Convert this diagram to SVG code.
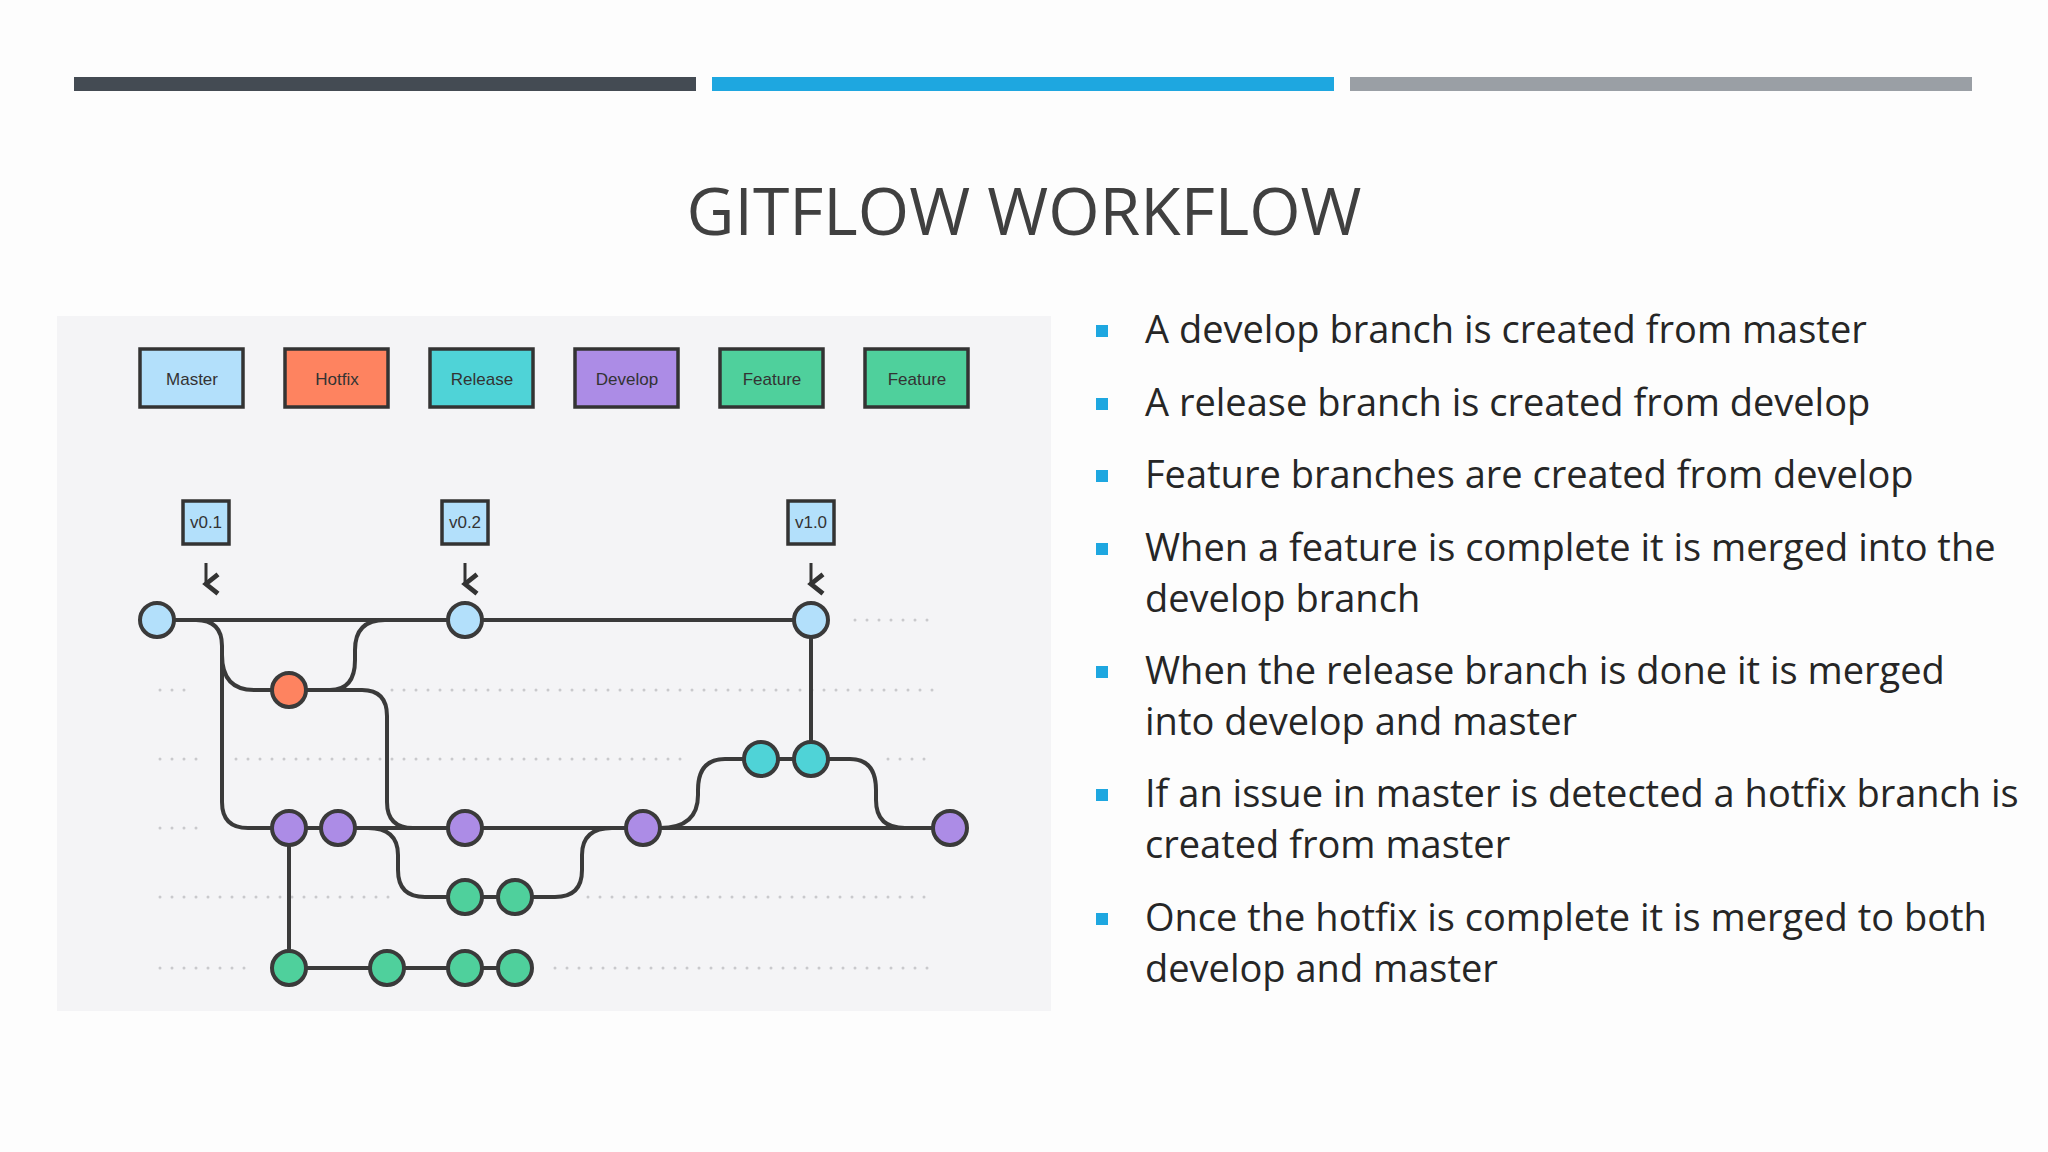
<svg xmlns="http://www.w3.org/2000/svg" width="2048" height="1152" viewBox="0 0 2048 1152">
<defs>
<style>
.lg{stroke:#333;stroke-width:3.5}
.lt{font-family:"Liberation Sans",Arial,sans-serif;font-size:17px;fill:#333;text-anchor:middle}
.tg{fill:#b3e0fb;stroke:#333;stroke-width:3.5}
.ln{fill:none;stroke:#3a3a3a;stroke-width:4}
.dot{stroke:#c9c9cc;stroke-width:3;stroke-linecap:round;stroke-dasharray:0 12}
.n{stroke:#3a3a3a;stroke-width:4}
.bt{font-family:"Open Sans","Noto Sans",sans-serif;font-size:38px;fill:#262626}
.bl{fill:#1ea7e0}
</style>
<marker id="ar" viewBox="0 0 10 10" refX="5" refY="8" markerWidth="8" markerHeight="8" orient="auto"><path d="M1 3 L5 8 L9 3" fill="none" stroke="#333" stroke-width="2"/></marker>
</defs>
<rect width="2048" height="1152" fill="#fdfdfd"/>
<rect x="74" y="77" width="622" height="14" fill="#444b53"/>
<rect x="712" y="77" width="622" height="14" fill="#1ea7e0"/>
<rect x="1350" y="77" width="622" height="14" fill="#9a9fa5"/>
<text x="1024" y="235" font-family="Open Sans,'Noto Sans',sans-serif" font-size="66" fill="#404040" text-anchor="middle">GITFLOW WORKFLOW</text>
<rect x="57" y="316" width="994" height="695" fill="#f4f4f6"/>
<g id="legend">
<g id="lg-master"><rect class="lg" x="140" y="349" width="103" height="58" fill="#b3e0fb"/><text class="lt" x="192" y="385">Master</text></g>
<g id="lg-hotfix"><rect class="lg" x="285" y="349" width="103" height="58" fill="#fe8360"/><text class="lt" x="337" y="385">Hotfix</text></g>
<g id="lg-release"><rect class="lg" x="430" y="349" width="103" height="58" fill="#4fd3d7"/><text class="lt" x="482" y="385">Release</text></g>
<g id="lg-develop"><rect class="lg" x="575" y="349" width="103" height="58" fill="#ac8ce6"/><text class="lt" x="627" y="385">Develop</text></g>
<g id="lg-feature1"><rect class="lg" x="720" y="349" width="103" height="58" fill="#4fd09c"/><text class="lt" x="772" y="385">Feature</text></g>
<g id="lg-feature2"><rect class="lg" x="865" y="349" width="103" height="58" fill="#4fd09c"/><text class="lt" x="917" y="385">Feature</text></g>
</g>
<g id="tags">
<g id="v01"><rect class="tg" x="183" y="501" width="46" height="43"/><text class="lt" x="206" y="528" font-size="14">v0.1</text></g>
<g id="v02"><rect class="tg" x="442" y="501" width="46" height="43"/><text class="lt" x="465" y="528" font-size="14">v0.2</text></g>
<g id="v10"><rect class="tg" x="788" y="501" width="46" height="43"/><text class="lt" x="811" y="528" font-size="14">v1.0</text></g>
</g>
<g id="dots">
<line class="dot" x1="855" y1="620" x2="935" y2="620"/>
<line class="dot" x1="160" y1="690" x2="196" y2="690"/>
<line class="dot" x1="392" y1="690" x2="935" y2="690"/>
<line class="dot" x1="160" y1="759" x2="208" y2="759"/>
<line class="dot" x1="236" y1="759" x2="692" y2="759"/>
<line class="dot" x1="888" y1="759" x2="935" y2="759"/>
<line class="dot" x1="160" y1="828" x2="202" y2="828"/>
<line class="dot" x1="160" y1="897" x2="392" y2="897"/>
<line class="dot" x1="588" y1="897" x2="935" y2="897"/>
<line class="dot" x1="160" y1="968" x2="250" y2="968"/>
<line class="dot" x1="555" y1="968" x2="935" y2="968"/>
</g>
<g id="connectors">
<line x1="206" y1="563" x2="206" y2="584" stroke="#333" stroke-width="3" marker-end="url(#ar)"/>
<line x1="465" y1="563" x2="465" y2="584" stroke="#333" stroke-width="3" marker-end="url(#ar)"/>
<line x1="811" y1="563" x2="811" y2="584" stroke="#333" stroke-width="3" marker-end="url(#ar)"/>
<path class="ln" d="M157 620 H811"/>
<path class="ln" d="M180 620 H196 Q222 620 222 646 V802 Q222 828 248 828 H950"/>
<path class="ln" d="M222 655 Q222 690 254 690 H289"/>
<path class="ln" d="M289 690 H330 Q355 690 355 660 V650 Q355 620 385 620"/>
<path class="ln" d="M289 690 H362 Q387 690 387 716 V802 Q387 828 413 828"/>
<path class="ln" d="M368 828 Q398 828 398 855 V870 Q398 897 425 897 H555 Q582 897 582 870 V855 Q582 828 612 828"/>
<path class="ln" d="M660 828 Q698 828 698 795 V790 Q698 759 725 759 H850 Q876 759 876 790 V800 Q876 828 905 828"/>
<path class="ln" d="M811 620 V759"/>
<path class="ln" d="M289 828 V968 H515"/>
</g>
<g id="nodes">
<g id="m1"><circle class="n" cx="157" cy="620" r="17" fill="#b3e0fb"/></g>
<g id="m2"><circle class="n" cx="465" cy="620" r="17" fill="#b3e0fb"/></g>
<g id="m3"><circle class="n" cx="811" cy="620" r="17" fill="#b3e0fb"/></g>
<g id="h1"><circle class="n" cx="289" cy="690" r="17" fill="#fe8360"/></g>
<g id="r1"><circle class="n" cx="761" cy="759" r="17" fill="#4fd3d7"/></g>
<g id="r2"><circle class="n" cx="811" cy="759" r="17" fill="#4fd3d7"/></g>
<g id="d1"><circle class="n" cx="289" cy="828" r="17" fill="#ac8ce6"/></g>
<g id="d2"><circle class="n" cx="338" cy="828" r="17" fill="#ac8ce6"/></g>
<g id="d3"><circle class="n" cx="465" cy="828" r="17" fill="#ac8ce6"/></g>
<g id="d4"><circle class="n" cx="643" cy="828" r="17" fill="#ac8ce6"/></g>
<g id="d5"><circle class="n" cx="950" cy="828" r="17" fill="#ac8ce6"/></g>
<g id="f1"><circle class="n" cx="465" cy="897" r="17" fill="#4fd09c"/></g>
<g id="f2"><circle class="n" cx="515" cy="897" r="17" fill="#4fd09c"/></g>
<g id="g1"><circle class="n" cx="289" cy="968" r="17" fill="#4fd09c"/></g>
<g id="g2"><circle class="n" cx="387" cy="968" r="17" fill="#4fd09c"/></g>
<g id="g3"><circle class="n" cx="465" cy="968" r="17" fill="#4fd09c"/></g>
<g id="g4"><circle class="n" cx="515" cy="968" r="17" fill="#4fd09c"/></g>
</g>
<g id="bullets">
<rect class="bl" x="1096" y="325" width="12" height="12"/>
<text class="bt" x="1145" y="343">A develop branch is created from master</text>
<rect class="bl" x="1096" y="398" width="12" height="12"/>
<text class="bt" x="1145" y="416">A release branch is created from develop</text>
<rect class="bl" x="1096" y="470" width="12" height="12"/>
<text class="bt" x="1145" y="488">Feature branches are created from develop</text>
<rect class="bl" x="1096" y="543" width="12" height="12"/>
<text class="bt" x="1145" y="561">When a feature is complete it is merged into the</text>
<text class="bt" x="1145" y="612">develop branch</text>
<rect class="bl" x="1096" y="666" width="12" height="12"/>
<text class="bt" x="1145" y="684">When the release branch is done it is merged</text>
<text class="bt" x="1145" y="735">into develop and master</text>
<rect class="bl" x="1096" y="789" width="12" height="12"/>
<text class="bt" x="1145" y="807">If an issue in master is detected a hotfix branch is</text>
<text class="bt" x="1145" y="858">created from master</text>
<rect class="bl" x="1096" y="913" width="12" height="12"/>
<text class="bt" x="1145" y="931">Once the hotfix is complete it is merged to both</text>
<text class="bt" x="1145" y="982">develop and master</text>
</g>
</svg>
